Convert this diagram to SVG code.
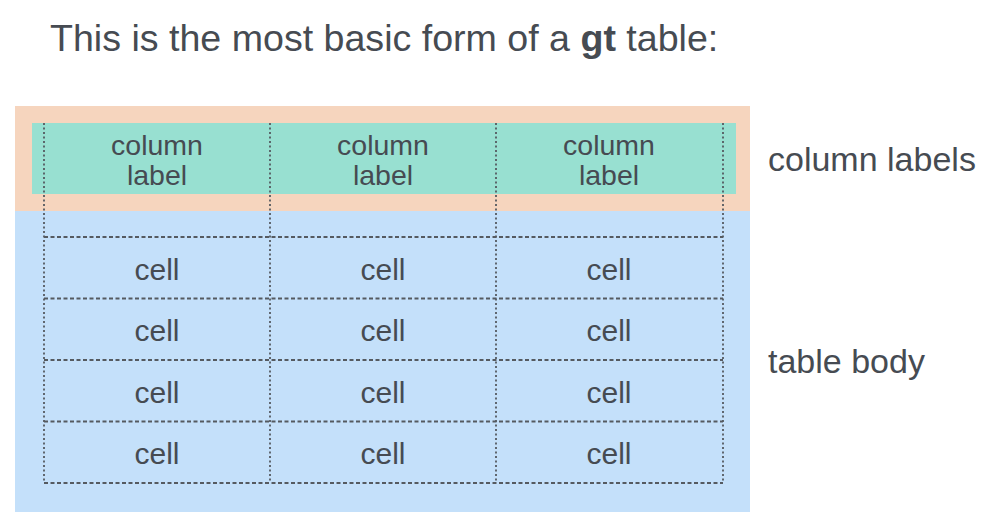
<svg xmlns="http://www.w3.org/2000/svg" width="994" height="528" viewBox="0 0 994 528">
<style>
text{font-family:"Liberation Sans",Arial,sans-serif;fill:#464b52}
.t{font-size:30px;text-anchor:middle}
.c{font-size:28.5px;text-anchor:middle}
.side{font-size:34px}
.v{stroke:#555a60;stroke-width:1.8;stroke-dasharray:2 2.5;fill:none}
.h{stroke:#555a60;stroke-width:1.8;stroke-dasharray:4 2.5;fill:none}
</style>
<rect width="994" height="528" fill="#ffffff"/>
<text id="title" x="50" y="51" style="font-size:37.6px">This is the most basic form of a <tspan font-weight="bold">gt</tspan> table:</text>
<g id="header-area">
<rect x="15" y="106" width="735" height="105" fill="#f6d5be"/>
<rect x="32" y="123" width="704" height="71" fill="#98e0d1"/>
</g>
<g id="body-area">
<rect x="15" y="211" width="735" height="301" fill="#c4e0fa"/>
</g>
<g id="grid">
<line class="v" x1="44" y1="123" x2="44" y2="483"/>
<line class="v" x1="270" y1="123" x2="270" y2="483"/>
<line class="v" x1="496" y1="123" x2="496" y2="483"/>
<line class="v" x1="723" y1="123" x2="723" y2="483"/>
<line class="h" x1="44" y1="237" x2="723" y2="237"/>
<line class="h" x1="44" y1="298.5" x2="723" y2="298.5"/>
<line class="h" x1="44" y1="360" x2="723" y2="360"/>
<line class="h" x1="44" y1="421.5" x2="723" y2="421.5"/>
<line class="h" x1="44" y1="483" x2="723" y2="483"/>
</g>
<g id="col-label-1"><text class="c" x="157" y="155">column</text><text class="c" x="157" y="185">label</text></g>
<g id="col-label-2"><text class="c" x="383" y="155">column</text><text class="c" x="383" y="185">label</text></g>
<g id="col-label-3"><text class="c" x="609" y="155">column</text><text class="c" x="609" y="185">label</text></g>
<g id="cells">
<text class="t" x="157" y="280">cell</text><text class="t" x="383" y="280">cell</text><text class="t" x="609" y="280">cell</text>
<text class="t" x="157" y="341">cell</text><text class="t" x="383" y="341">cell</text><text class="t" x="609" y="341">cell</text>
<text class="t" x="157" y="403">cell</text><text class="t" x="383" y="403">cell</text><text class="t" x="609" y="403">cell</text>
<text class="t" x="157" y="464">cell</text><text class="t" x="383" y="464">cell</text><text class="t" x="609" y="464">cell</text>
</g>
<g id="label-column-labels"><text class="side" x="768" y="171">column labels</text></g>
<g id="label-table-body"><text class="side" x="768" y="373">table body</text></g>
</svg>
